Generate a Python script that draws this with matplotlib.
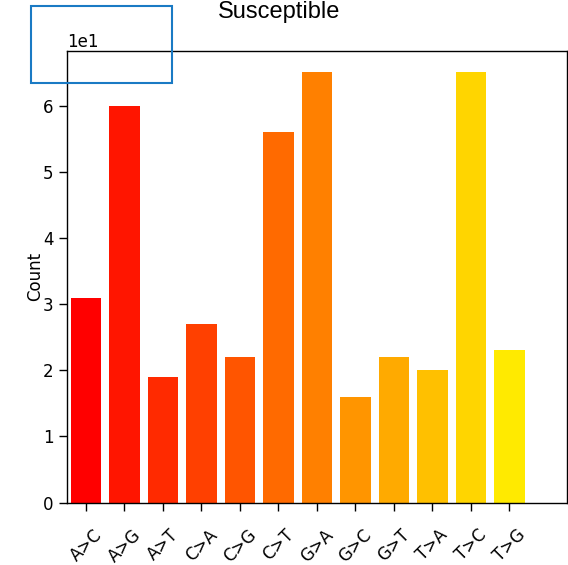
import matplotlib
matplotlib.use('Agg')
import matplotlib.pyplot as plt
import matplotlib.patches as patches
import numpy as np

mutations = ['A>C', 'A>G', 'A>T', 'C>A', 'C>G', 'C>T',
             'G>A', 'G>C', 'G>T', 'T>A', 'T>C', 'T>G']
counts = [31, 60, 19, 27, 22, 56, 65, 16, 22, 20, 65, 23]
n_slots = 13  # colour scale spans one spare slot on the right

fig = plt.figure(figsize=(5.68, 5.65), dpi=100)
ax = fig.add_axes([0.1174, 0.1103, 0.8812, 0.7995])

x = np.arange(len(mutations))
colors = plt.cm.autumn(np.arange(n_slots) / (n_slots - 1))
ax.bar(x, counts, width=0.8, color=colors[:len(mutations)])

ax.set_xlim(-0.5, n_slots - 0.5)
ax.set_xticks(x)
ax.set_xticklabels(mutations, rotation=45, fontsize=12)
ax.ticklabel_format(axis='y', style='sci', scilimits=(0, 0))
ax.yaxis.get_offset_text().set_fontsize(12)
ax.tick_params(axis='both', length=5.5, width=1.0)
ax.tick_params(axis='x', pad=11)
ax.tick_params(axis='y', labelsize=12, pad=4)
ax.set_ylabel('Count', fontsize=12)
ax.yaxis.set_label_coords(-0.046, 0.5)
for s in ax.spines.values():
    s.set_linewidth(1.0)

fig.text(0.491, 0.968, 'Susceptible', ha='center', va='baseline',
         fontsize=17, family='Liberation Sans')

# highlight box around the exponent label
box = patches.Rectangle((0.054, 0.8526), 0.2488, 0.1368, transform=fig.transFigure,
                        fill=False, edgecolor='#1a7ac4', linewidth=1.5)
fig.patches.append(box)

fig.savefig('out.png', dpi=100)
